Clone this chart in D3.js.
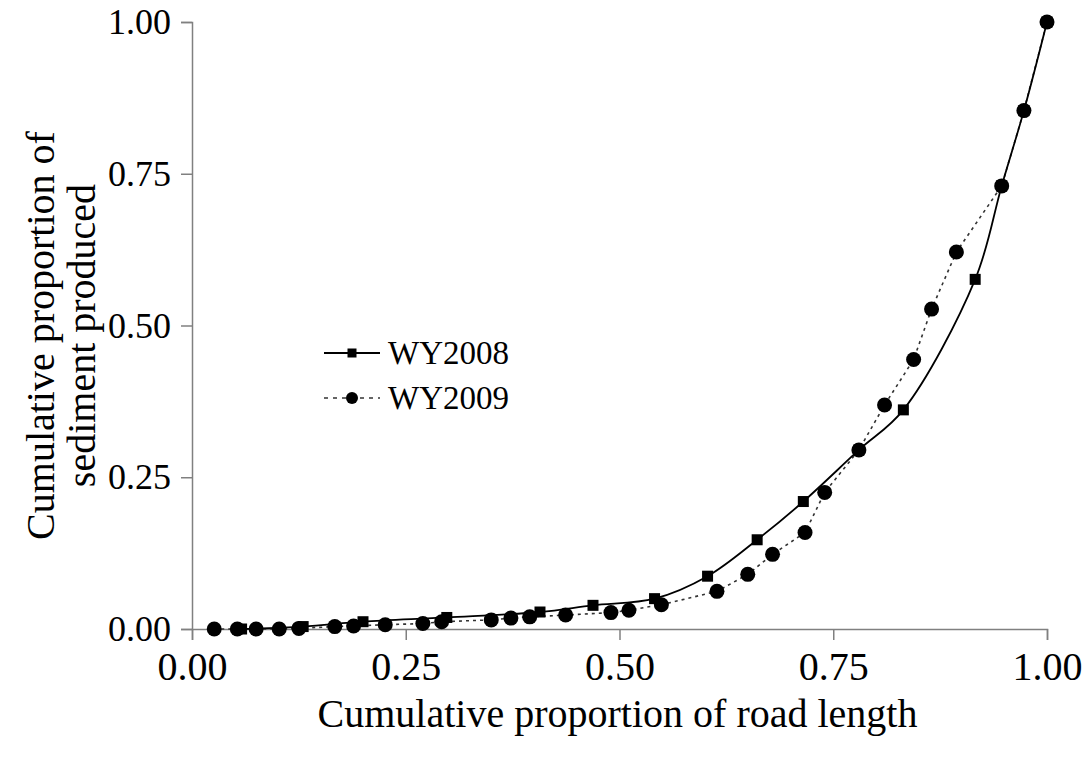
<!DOCTYPE html>
<html>
<head>
<meta charset="utf-8">
<script src="https://cdn.jsdelivr.net/npm/d3@7"></script>
<style>
  body { margin: 0; background: #fff; }
</style>
</head>
<body>
<div id="chart"></div>
<script>
// Data
const x2008 = [0.058, 0.130, 0.200, 0.298, 0.407, 0.469, 0.541, 0.603, 0.661, 0.715, 0.780, 0.832, 0.916, 0.947, 0.973, 1.000]
const y2008 = [0.000, 0.004, 0.012, 0.019, 0.028, 0.039, 0.050, 0.087, 0.147, 0.210, 0.295, 0.361, 0.576, 0.730, 0.854, 1.000]

const x2009 = [0.026, 0.053, 0.075, 0.102, 0.125, 0.167, 0.189, 0.226, 0.270, 0.292, 0.350, 0.373, 0.395, 0.437, 0.490, 0.511, 0.549, 0.614, 0.650, 0.679, 0.717, 0.740, 0.780, 0.810, 0.844, 0.865, 0.894, 0.947, 0.973, 1.000]
const y2009 = [0.000, 0.000, 0.000, 0.000, 0.001, 0.004, 0.005, 0.007, 0.009, 0.012, 0.015, 0.018, 0.020, 0.023, 0.027, 0.031, 0.040, 0.062, 0.090, 0.123, 0.159, 0.225, 0.295, 0.369, 0.444, 0.527, 0.621, 0.730, 0.854, 1.000]

const xTicks = [0, 0.25, 0.5, 0.75, 1]
const yTicks = [0, 0.25, 0.5, 0.75, 1]
const seriesNames = ['WY2008', 'WY2009']

const d2008 = x2008.map((x, i) => ({x: x, y: y2008[i]}))
const d2009 = x2009.map((x, i) => ({x: x, y: y2009[i]}))

// Dimensions
let dimensions = {
  width: 1089,
  height: 757,
  margin: { top: 22, bottom: 128, left: 192, right: 42 }
}

const font = "'Liberation Serif', 'Times New Roman', serif"

const svg = d3.select('#chart')
              .append('svg')
              .attr('width', dimensions.width)
              .attr('height', dimensions.height)

const container = svg.append('g')
                     .attr('transform', `translate(${dimensions.margin.left},${dimensions.margin.top})`)

const containerWidth = dimensions.width - dimensions.margin.left - dimensions.margin.right
const containerHeight = dimensions.height - dimensions.margin.top - dimensions.margin.bottom

// Scales
const xScale = d3.scaleLinear().domain([0, 1]).range([0, containerWidth])
const yScale = d3.scaleLinear().domain([0, 1]).range([containerHeight, 0])

// Axes
const xAxis = d3.axisBottom(xScale).tickValues(xTicks).tickFormat(d3.format('.2f')).tickSize(11).tickPadding(12)
const yAxis = d3.axisLeft(yScale).tickValues(yTicks).tickFormat(d3.format('.2f')).tickSize(11).tickPadding(10)

const xAxisGroup = container.append('g')
                            .attr('transform', `translate(0,${containerHeight})`)
                            .call(xAxis)
const yAxisGroup = container.append('g').call(yAxis)

;[xAxisGroup, yAxisGroup].forEach(g => {
  g.select('.domain').attr('stroke', '#808080').attr('stroke-width', 1.5)
  g.selectAll('.tick line').attr('stroke', '#808080').attr('stroke-width', 1.5)
  g.selectAll('.tick text')
   .attr('font-family', font)
   .attr('fill', '#000')
})
xAxisGroup.selectAll('.tick text').attr('font-size', '40px').attr('dy', '0.71em')
yAxisGroup.selectAll('.tick text').attr('font-size', '36px')

// Axis titles
container.append('text')
         .attr('x', containerWidth / 2 - 2)
         .attr('y', containerHeight + 98)
         .attr('text-anchor', 'middle')
         .attr('font-family', font)
         .attr('font-size', '40px')
         .text('Cumulative proportion of road length')

const yTitle = container.append('text')
         .attr('transform', `translate(${-138},${containerHeight / 2 + 10}) rotate(-90)`)
         .attr('text-anchor', 'middle')
         .attr('font-family', font)
         .attr('font-size', '40px')
yTitle.append('tspan').attr('x', 0).attr('y', 0).text('Cumulative proportion of')
yTitle.append('tspan').attr('x', 0).attr('y', 41).text('sediment produced')

// Lines
const line2008 = d3.line().x(d => xScale(d.x)).y(d => yScale(d.y)).curve(d3.curveCatmullRom.alpha(0.5))
const line2009 = d3.line().x(d => xScale(d.x)).y(d => yScale(d.y))

container.append('path')
         .datum(d2009)
         .attr('d', line2009)
         .attr('fill', 'none')
         .attr('stroke', '#333')
         .attr('stroke-width', 1.6)
         .attr('stroke-dasharray', '3,4')

container.append('path')
         .datum(d2008)
         .attr('d', line2008)
         .attr('fill', 'none')
         .attr('stroke', '#000')
         .attr('stroke-width', 1.8)

// Markers
container.selectAll('rect.m2008')
         .data(d2008)
         .join('rect')
         .attr('class', 'm2008')
         .attr('x', d => xScale(d.x) - 5.5)
         .attr('y', d => yScale(d.y) - 5.5)
         .attr('width', 11)
         .attr('height', 11)
         .attr('fill', '#000')

container.selectAll('circle.m2009')
         .data(d2009)
         .join('circle')
         .attr('class', 'm2009')
         .attr('cx', d => xScale(d.x))
         .attr('cy', d => yScale(d.y))
         .attr('r', 7.5)
         .attr('fill', '#000')

// Legend
const legend = svg.append('g').attr('transform', 'translate(324,353)')
legend.append('line').attr('x1', 0).attr('x2', 56).attr('y1', 0).attr('y2', 0)
      .attr('stroke', '#000').attr('stroke-width', 1.8)
legend.append('rect').attr('x', 23.5).attr('y', -4.5).attr('width', 9).attr('height', 9).attr('fill', '#000')
legend.append('line').attr('x1', 0).attr('x2', 56).attr('y1', 45).attr('y2', 45)
      .attr('stroke', '#333').attr('stroke-width', 1.6).attr('stroke-dasharray', '4,5')
legend.append('circle').attr('cx', 28).attr('cy', 45).attr('r', 6).attr('fill', '#000')
legend.selectAll('text.leg')
      .data(seriesNames)
      .join('text')
      .attr('class', 'leg')
      .attr('x', 64)
      .attr('y', (d, i) => i * 45 + 11)
      .attr('font-family', font)
      .attr('font-size', '33px')
      .text(d => d)
</script>
</body>
</html>
